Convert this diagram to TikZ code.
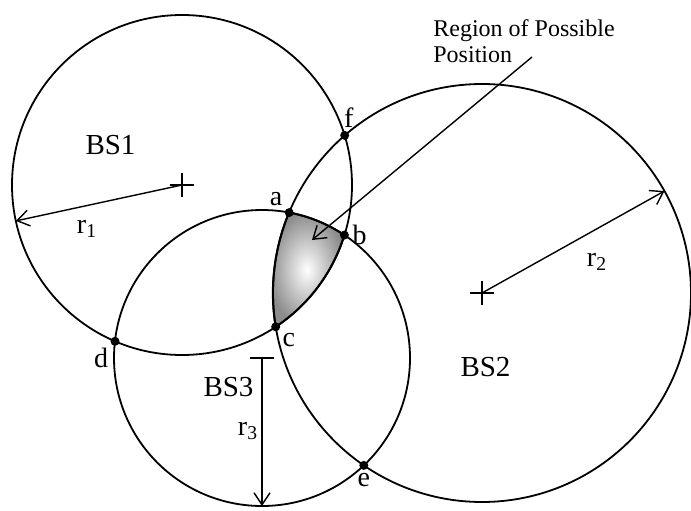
\documentclass[tikz,border=0pt]{standalone}
\usepackage{fontspec}
\setmainfont{Liberation Serif}
\usetikzlibrary{arrows.meta}

\tikzset{
  bscircle/.style={line width=0.9pt},
  radarrow/.style={line width=0.7pt,-{Straight Barb[length=6pt,width=8pt]}},
  isect/.style={circle,fill=black,inner sep=0pt,minimum size=4.5pt},
  ptlabel/.style={font=\fontsize{14}{14}\selectfont,inner sep=1.5pt},
  bslabel/.style={font=\fontsize{14.5}{15}\selectfont,inner sep=0pt},
}

\begin{document}
\begin{tikzpicture}[x=0.5pt,y=0.5pt]
\useasboundingbox (0,0) rectangle (691,510);
\coordinate (c1) at (182,325);
\coordinate (c2) at (482,217);
\coordinate (c3) at (262,152);
% region of possible position
\shade[inner color=white,outer color=black!45,draw,line width=1pt]
  (289.2,297.4) arc[start angle=79.4,end angle=56.2,radius=148]
  arc[start angle=-17.1,end angle=-56.5,radius=170]
  arc[start angle=189.3,end angle=157.4,radius=209] -- cycle;
\draw[bscircle] (c1) circle[radius=170];
\draw[bscircle] (c2) circle[radius=209];
\draw[bscircle] (c3) circle[radius=148];
\draw[line width=0.7pt] (c1) ++(-12,0) -- ++(24,0) (c1) ++(0,-12) -- ++(0,24);
\draw[line width=0.7pt] (c2) ++(-12,0) -- ++(24,0) (c2) ++(0,-12) -- ++(0,24);
\draw[line width=0.7pt] (c3) ++(-12,0) -- ++(24,0) (c3) ++(0,-12) -- ++(0,12);
\draw[radarrow] (c1) -- ++(192.2:170);
\draw[radarrow] (c2) -- ++(29.2:209);
\draw[radarrow] (c3) -- ++(270:148);
% intersection points
\node[isect,label={[ptlabel]above left:a}] (a) at (289.2,297.4) {};
\node[isect,label={[ptlabel]right:b}] (b) at (344.4,274.9) {};
\node[isect,label={[ptlabel]below right:c}] (c) at (275.7,183.2) {};
\node[isect,label={[ptlabel]below left:d}] (d) at (115,168.7) {};
\node[isect,label={[ptlabel]below:e}] (e) at (363.8,44.6) {};
\node[isect,label={[ptlabel,xshift=2pt]above:f}] (f) at (344.7,374.6) {};
\node[bslabel] (bs1) at (110.5,364.5) {BS1};
\node[bslabel] (bs2) at (485.5,143) {BS2};
\node[bslabel] (bs3) at (228.5,122.5) {BS3};
\node[ptlabel] (r1) at (87,281) {r\textsubscript{1}};
\node[ptlabel] (r2) at (597,248) {r\textsubscript{2}};
\node[ptlabel] (r3) at (248,79) {r\textsubscript{3}};
\node[anchor=north west,inner sep=0pt,align=left,font=\fontsize{12}{13}\selectfont]
  (rgn) at (433,491) {Region of Possible\\Position};
\coordinate (rgntail) at (532,453);
\coordinate (rgntip) at (312,270);
\draw[radarrow] (rgntail) -- (rgntip);
\end{tikzpicture}
\end{document}
